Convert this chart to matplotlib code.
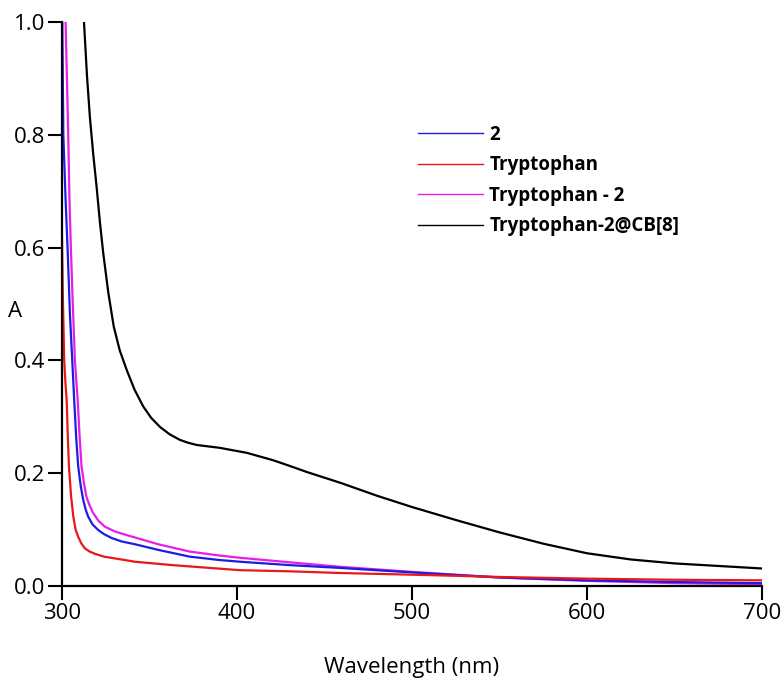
import matplotlib.pyplot as plt
from matplotlib.lines import Line2D

plt.rcParams['font.family'] = ['Open Sans', 'DejaVu Sans']

# wavelength (nm) / absorbance
wl_2 = [300.2, 300.8, 302.1, 303.2, 304.6, 305.9, 307, 308.2, 309.3, 310.7, 312.2, 313.6, 315,
        317.5, 320.8, 324, 328.4, 334, 341.7, 355, 373, 390, 401.7, 430, 459, 500, 550, 600,
        650, 700]
a_2 = [1.0, 0.8, 0.684, 0.6, 0.48, 0.4, 0.33, 0.26, 0.212, 0.178, 0.152, 0.135, 0.123, 0.109,
       0.099, 0.092, 0.085, 0.079, 0.074, 0.064, 0.052, 0.046, 0.043, 0.037, 0.032, 0.024,
       0.015, 0.01, 0.007, 0.005]

wl_trp = [300, 300.6, 301.3, 302, 302.7, 303.3, 304, 305.2, 306.5, 307.8, 309.3, 311, 313, 315.8,
          318.9, 324, 330, 341.7, 363, 401.7, 430, 459, 500, 550, 600, 650, 700]
a_trp = [0.62, 0.5, 0.4, 0.36, 0.33, 0.27, 0.212, 0.16, 0.123, 0.1, 0.087, 0.076, 0.067, 0.061,
         0.057, 0.052, 0.049, 0.043, 0.037, 0.028, 0.026, 0.023, 0.02, 0.016, 0.013, 0.011,
         0.01]

wl_trp2 = [302.1, 303.6, 304.3, 305.1, 306.2, 307.4, 309, 310.1, 311.2, 312.6, 314, 315.9, 317.9,
           321, 324.6, 330, 335, 341.7, 355, 373, 390, 401.7, 430, 459, 500, 550, 600, 650, 700]
a_trp2 = [1.0, 0.8, 0.684, 0.6, 0.5, 0.4, 0.33, 0.265, 0.212, 0.182, 0.158, 0.142, 0.129, 0.115,
          0.105, 0.097, 0.092, 0.086, 0.074, 0.061, 0.054, 0.05, 0.042, 0.034, 0.025, 0.015,
          0.009, 0.005, 0.003]

wl_cb8 = [312.6, 314.3, 316, 317.9, 319.8, 321.7, 323.6, 326.5, 329.6, 333, 337, 341.5, 346.5,
          351, 356, 361.5, 367.4, 372, 377, 390, 405.7, 420.6, 430, 440, 459, 480, 500, 525,
          550, 575, 600, 625, 650, 700]
a_cb8 = [1.0, 0.905, 0.83, 0.765, 0.708, 0.645, 0.59, 0.52, 0.46, 0.418, 0.383, 0.348, 0.318,
         0.298, 0.282, 0.269, 0.259, 0.254, 0.25, 0.245, 0.236, 0.223, 0.213, 0.202, 0.183,
         0.16, 0.14, 0.117, 0.095, 0.075, 0.058, 0.047, 0.04, 0.031]

labels = ['2', 'Tryptophan', 'Tryptophan - 2', 'Tryptophan-2@CB[8]']
colors = ['#1c1ce6', '#e81818', '#e61ee6', '#000000']

fig = plt.figure(figsize=(7.84, 6.82), dpi=100)
ax = fig.add_axes([0.079, 0.1408, 0.893, 0.827])

ax.plot(wl_cb8, a_cb8, color=colors[3], lw=1.6)
ax.plot(wl_trp2, a_trp2, color=colors[2], lw=1.6)
ax.plot(wl_2, a_2, color=colors[0], lw=1.6)
ax.plot(wl_trp, a_trp, color=colors[1], lw=1.6)

ax.set_xlim(300, 700)
ax.set_ylim(0, 1.0)
ax.set_xticks([300, 400, 500, 600, 700])
ax.set_yticks([0, 0.2, 0.4, 0.6, 0.8, 1.0])
ax.set_yticklabels(['0.0', '0.2', '0.4', '0.6', '0.8', '1.0'])
for s in ['top', 'right']:
    ax.spines[s].set_visible(False)
for s in ['left', 'bottom']:
    ax.spines[s].set_linewidth(1.6)
ax.tick_params(direction='out', length=10, width=1.5, labelsize=16, pad=2)

ax.set_xlabel('Wavelength (nm)', fontsize=16, labelpad=24)
ax.set_ylabel('A', fontsize=16, rotation=0, va='center', ha='center')
ax.yaxis.set_label_coords(-0.067, 0.486)

handles = [Line2D([], [], color=c, lw=1) for c in colors]
leg = ax.legend(handles, labels, loc='upper left', bbox_to_anchor=(0.5086, 0.818),
                frameon=False, borderpad=0, borderaxespad=0, handlelength=3.45,
                handletextpad=0.35, labelspacing=0.56,
                prop={'weight': 'bold', 'size': 13.5})

plt.savefig('out.png')
